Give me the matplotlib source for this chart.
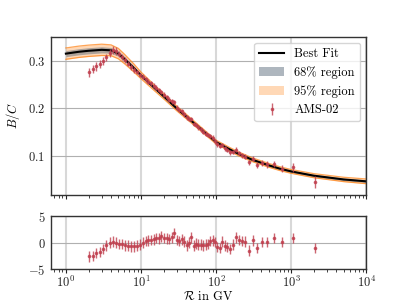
"""B/C ratio fit against AMS-02 data with residual panel."""

import matplotlib

matplotlib.use("Agg")
import matplotlib.pyplot as plt
import numpy as np

# best-fit curve and credible bands (rigidity in GV)
fit_rig = [1, 1.5, 2, 3, 4, 5, 6, 8, 10, 15, 20, 30, 50, 70, 100, 150, 200,
           300, 500, 700, 1000, 2000, 5000, 10000]
fit_bc = [0.316, 0.320, 0.322, 0.324, 0.323, 0.316, 0.305, 0.286, 0.270, 0.244,
          0.226, 0.200, 0.170, 0.150, 0.129, 0.114, 0.104, 0.092, 0.080, 0.073,
          0.067, 0.058, 0.050, 0.046]
band68 = [0.0065, 0.0065, 0.0065, 0.0065, 0.006, 0.0055, 0.005, 0.0042, 0.0035,
          0.003, 0.0028, 0.0025, 0.0022, 0.002, 0.002, 0.002, 0.002, 0.002,
          0.002, 0.002, 0.002, 0.0022, 0.0024, 0.0025]
band95 = [0.012, 0.012, 0.012, 0.012, 0.0115, 0.011, 0.010, 0.0085, 0.007,
          0.006, 0.0055, 0.005, 0.0045, 0.0042, 0.004, 0.004, 0.004, 0.004,
          0.004, 0.004, 0.004, 0.0043, 0.0046, 0.005]

# AMS-02 B/C
ams_rig = [2.03, 2.27, 2.53, 2.82, 3.13, 3.46, 3.83, 4.22, 4.65, 5.12, 5.63, 6.18,
           6.78, 7.42, 8.11, 8.86, 9.67, 10.5, 11.5, 12.5, 13.5, 14.7, 15.9, 17.3,
           18.7, 20.3, 21.9, 23.7, 25.7, 27.7, 29.9, 32.3, 34.8, 37.5, 40.4, 43.5,
           46.8, 50.3, 54.1, 58.2, 62.5, 67.2, 72.3, 77.6, 83.4, 89.7, 96.4, 104,
           112, 120, 130, 141, 153, 167, 183, 201, 222, 246, 274, 310, 354, 409,
           481, 589, 762, 1070, 2071]
ams_bc = [0.277, 0.283, 0.289, 0.294, 0.301, 0.308, 0.317, 0.324, 0.322, 0.315,
          0.309, 0.302, 0.295, 0.288, 0.282, 0.277, 0.271, 0.267, 0.262, 0.257,
          0.253, 0.248, 0.244, 0.239, 0.235, 0.229, 0.224, 0.219, 0.215, 0.213,
          0.202, 0.197, 0.194, 0.188, 0.181, 0.178, 0.178, 0.167, 0.165, 0.160,
          0.156, 0.151, 0.147, 0.144, 0.142, 0.138, 0.131, 0.124, 0.121, 0.123,
          0.116, 0.112, 0.107, 0.108, 0.113, 0.106, 0.101, 0.098, 0.086, 0.094,
          0.081, 0.085, 0.082, 0.083, 0.073, 0.076, 0.044]
ams_err = [0.0095, 0.009, 0.009, 0.009, 0.008, 0.008, 0.008, 0.008, 0.008, 0.007,
           0.007, 0.006, 0.006, 0.006, 0.006, 0.005, 0.005, 0.005, 0.005, 0.005,
           0.005, 0.005, 0.005, 0.005, 0.005, 0.005, 0.005, 0.005, 0.005, 0.005,
           0.005, 0.005, 0.005, 0.005, 0.005, 0.005, 0.005, 0.005, 0.005, 0.005,
           0.005, 0.005, 0.005, 0.005, 0.005, 0.005, 0.005, 0.005, 0.005, 0.005,
           0.005, 0.005, 0.005, 0.005, 0.005, 0.005, 0.005, 0.005, 0.006, 0.006,
           0.006, 0.006, 0.007, 0.007, 0.008, 0.0095, 0.0125]
resid = [-2.6, -2.5, -2.0, -1.8, -1.2, -0.5, 0.0, 0.2, 0.0, -0.3, -0.3, -0.5,
         -0.6, -0.7, -0.7, -0.6, -0.4, 0.0, 0.3, 0.4, 0.5, 0.6, 0.9, 0.8, 1.2,
         0.9, 0.8, 0.7, 1.0, 1.8, 0.5, 0.3, 0.6, 0.2, -0.5, 0.0, 1.0, -0.6, -0.2,
         -0.4, -0.4, -0.5, -0.4, -0.3, 0.3, 0.4, 0.1, -0.8, -1.0, 0.2, -0.6, -0.8,
         -1.2, -0.4, 1.0, 0.5, 0.3, 0.2, -1.5, 0.4, -1.0, 0.1, 0.1, 0.9, 0.1, 0.9,
         -1.0]
resid_err = [1.0] * len(resid)

plt.rcParams["font.family"] = "serif"
plt.rcParams["font.serif"] = ["cmr10", "DejaVu Serif"]
plt.rcParams["mathtext.fontset"] = "cm"
plt.rcParams["axes.formatter.use_mathtext"] = True
plt.rcParams["font.size"] = 9
plt.rcParams["axes.unicode_minus"] = True

data_color = "#c0404f"

fig, (ax, axr) = plt.subplots(2, 1, sharex=True, figsize=(4.07, 3.05), dpi=100,
                              gridspec_kw={"height_ratios": [3, 1]})
fig.subplots_adjust(bottom=0.118, top=0.88)

r = np.array(fit_rig)
y = np.array(fit_bc)
b95 = np.array(band95)
b68 = np.array(band68)

ax.fill_between(r, y - b95, y + b95, color="C1", alpha=0.3, lw=0, label="95% region")
ax.plot(r, y + b95, color="C1", lw=0.9, alpha=0.7)
ax.plot(r, y - b95, color="C1", lw=0.9, alpha=0.7)
ax.fill_between(r, y - b68, y + b68, color="#5f6f7f", alpha=0.5, lw=0, label="68% region")
ax.plot(r, y, color="black", lw=1.5, label="Best Fit")
ax.errorbar(ams_rig, ams_bc, yerr=ams_err, fmt="o", ms=1.6, color=data_color,
            elinewidth=1.0, alpha=0.8, label="AMS-02")

axr.errorbar(ams_rig, resid, yerr=resid_err, fmt="o", ms=1.6, color=data_color,
             elinewidth=1.0, alpha=0.8)

for a in (ax, axr):
    a.set_xscale("log")
    a.set_axisbelow(True)
    a.xaxis.grid(True, which="major", color="#d8d8d8", lw=1.5)
    a.yaxis.grid(True, which="major", color="#b0b0b0", lw=0.8)
    for s in a.spines.values():
        s.set_color("#333333")
        s.set_linewidth(1.0)
    a.tick_params(axis="y", length=0, pad=4, colors="#222222")
    a.tick_params(axis="x", which="major", length=3, pad=1, colors="#222222")
    a.tick_params(axis="x", which="minor", length=2, colors="#222222")

ax.set_xlim(10 ** -0.2, 1e4)
ax.set_ylim(0.017, 0.352)
ax.set_yticks([0.1, 0.2, 0.3])
ax.set_ylabel(r"$B/C$")
ax.tick_params(labelbottom=False)

axr.set_ylim(-5, 5)
axr.set_yticks([-5, 0, 5])
axr.set_xlabel(r"$\mathcal{R}$ in GV", labelpad=0)

handles, labels = ax.get_legend_handles_labels()
order = [labels.index(k) for k in ["Best Fit", "68% region", "95% region", "AMS-02"]]
ax.legend([handles[i] for i in order], [labels[i] for i in order], loc="upper right",
          fontsize=9)

fig.savefig("out.png", dpi=100)
